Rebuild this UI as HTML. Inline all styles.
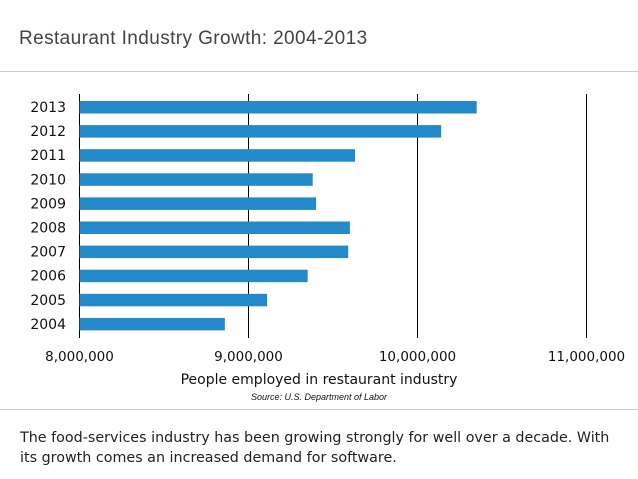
<!DOCTYPE html>
<html><head><meta charset="utf-8"><style>
body{margin:0;width:638px;height:479px;background:#fff;font-family:"DejaVu Sans",sans-serif;overflow:hidden;position:relative}
.t{position:absolute;color:#333}
</style></head><body>
<div class="t" style="left:19px;top:28px;font-size:19px;color:#444;font-family:'Liberation Sans',sans-serif;letter-spacing:0.4px">Restaurant Industry Growth: 2004-2013</div>
<div style="position:absolute;left:0;top:71px;width:638px;height:1px;background:#ccc"></div>
<div style="position:absolute;left:0;top:409px;width:638px;height:1px;background:#ccc"></div>
<svg id="c" width="638" height="410" style="position:absolute;left:0;top:0"></svg>
<div class="t" style="left:0;width:638px;text-align:center;top:372px;font-size:14px;color:#111">People employed in restaurant industry</div>
<div class="t" style="left:0;width:638px;text-align:center;top:392px;font-size:9px;font-style:italic;color:#111;font-family:'Liberation Sans',sans-serif">Source: U.S. Department of Labor</div>
<div class="t" style="left:20px;top:428px;font-size:14.3px;line-height:20px;color:#222;width:605px">The food-services industry has been growing strongly for well over a decade. With its growth comes an increased demand for software.</div>
<script>
const categories=["2013","2012","2011","2010","2009","2008","2007","2006","2005","2004"];
const values=[10350000,10140000,9630000,9380000,9400000,9600000,9590000,9350000,9110000,8860000];
const ticks=[8000000,9000000,10000000,11000000];
const tickLabels=["8,000,000","9,000,000","10,000,000","11,000,000"];
const svg=document.getElementById('c');const NS='http://www.w3.org/2000/svg';
const x=v=>79.5+(v-8000000)/1000000*169;
const y=i=>101+i*24.1;
function mk(t,a){const e=document.createElementNS(NS,t);for(const k in a)e.setAttribute(k,a[k]);svg.appendChild(e);return e;}
ticks.forEach((v,i)=>{
const l=mk('line',{x1:x(v),x2:x(v),y1:94,y2:338,stroke:'#000','stroke-width':1});


const t=mk('text',{x:x(v),y:361,'text-anchor':'middle','font-size':13.5,fill:'#111','font-family':'DejaVu Sans'});
t.textContent=tickLabels[i];


});
categories.forEach((c,i)=>{
const r=mk('rect',{x:x(8000000),y:y(i),width:x(values[i])-x(8000000),height:12.5,fill:'#2389c9'});


const t=mk('text',{x:66,y:y(i)+11,'text-anchor':'end','font-size':14,fill:'#111','font-family':'DejaVu Sans'});
t.textContent=c;


});
</script>
</body></html>
